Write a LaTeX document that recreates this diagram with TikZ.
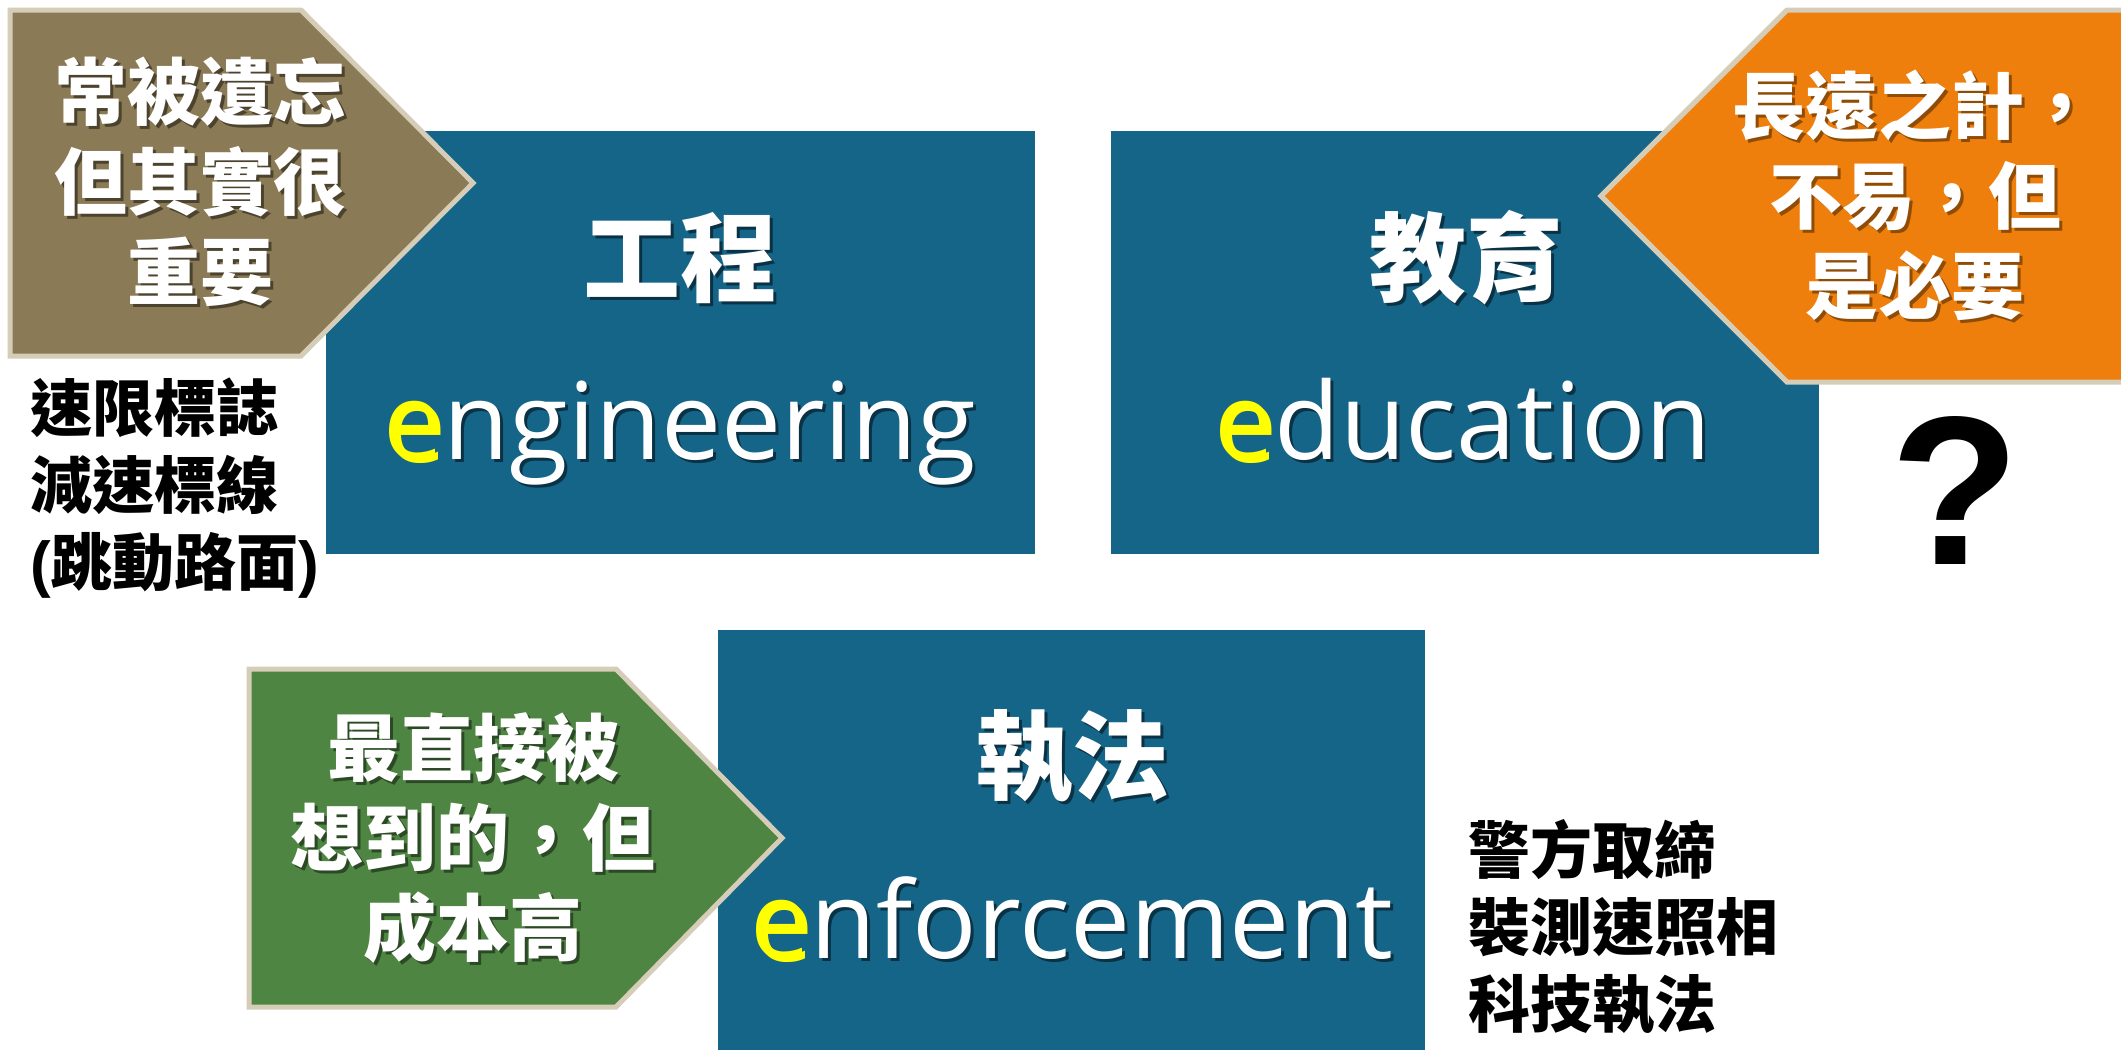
\documentclass[tikz,border=0pt]{standalone}
\usepackage{fontspec}
\setmainfont{Open Sans}
\newfontfamily\cjk{Noto Sans CJK TC}
\newfontfamily\qfont{Liberation Sans}
\definecolor{boxblue}{HTML}{146588}
\definecolor{tanbrown}{HTML}{8A7A55}
\definecolor{leafgreen}{HTML}{4F8543}
\definecolor{deeporange}{HTML}{EF7F0C}
\definecolor{rimtan}{HTML}{D6CDB8}
\definecolor{eyellow}{HTML}{FFFF00}
\newcommand\shd[2]{\makebox[0pt][l]{\hspace*{3pt}\raisebox{-3pt}[0pt][0pt]{\textcolor{#1}{#2}}}#2}
\tikzset{
  mainbox/.style={fill=boxblue, draw=none},
  arrowpent/.style={draw=rimtan, line width=5pt, line join=miter},
  sidenote/.style={inner sep=0pt, align=center, text=white, font=\cjk\bfseries\fontsize{73}{90}\selectfont},
  cjktitle/.style={inner sep=0pt, text=white, font=\cjk\bfseries\fontsize{97}{110}\selectfont},
  engword/.style={inner sep=0pt, anchor=base, text=white, font=\fontsize{107}{120}\selectfont},
  blacknote/.style={inner sep=0pt, align=left, anchor=west, text=black, font=\cjk\bfseries\fontsize{62}{77}\selectfont},
}
\begin{document}
\begin{tikzpicture}[x=1pt, y=-1pt]
\useasboundingbox (0,0) rectangle (2121,1050);
\fill[white] (0,0) rectangle (2121,1050);
% main boxes
\fill[mainbox] (326,131) rectangle (1035,554);
\fill[mainbox] (1111,131) rectangle (1819,554);
\fill[mainbox] (718,630) rectangle (1425,1050);
% pentagons
\filldraw[arrowpent, fill=tanbrown] (10,10) -- (301,10) -- (473,183) -- (301,356) -- (10,356) -- cycle;
\filldraw[arrowpent, fill=deeporange] (1787,10) -- (2135,10) -- (2135,382) -- (1787,382) -- (1601,196) -- cycle;
\filldraw[arrowpent, fill=leafgreen] (249,669) -- (616,669) -- (782,838) -- (616,1007) -- (249,1007) -- cycle;
% pentagon texts
\node[sidenote] (forgot) at (200,182) {\shd{black!45!tanbrown}{常被遺忘}\\\shd{black!45!tanbrown}{但其實很}\\\shd{black!45!tanbrown}{重要}};
\node[sidenote] (longterm) at (1915,195) {\shd{black!40!deeporange}{長遠之計，}\\\shd{black!40!deeporange}{不易，但}\\\shd{black!40!deeporange}{是必要}};
\node[sidenote] (direct) at (473,838) {\shd{black!45!leafgreen}{最直接被}\\\shd{black!45!leafgreen}{想到的，但}\\\shd{black!45!leafgreen}{成本高}};
% titles
\node[cjktitle] (engcn) at (680,258) {\shd{black!50!boxblue}{工程}};
\node[cjktitle] (educn) at (1466,258) {\shd{black!50!boxblue}{教育}};
\node[cjktitle] (enfcn) at (1072,757) {\shd{black!50!boxblue}{執法}};
\node[engword] (engen) at (680,459) {\shd{black!50!boxblue}{\textcolor{eyellow}{e}ngineering}};
\node[engword] (eduen) at (1463,459) {\shd{black!50!boxblue}{\textcolor{eyellow}{e}ducation}};
\node[engword] (enfen) at (1072,958) {\shd{black!50!boxblue}{\textcolor{eyellow}{e}nforcement}};
% black notes
\node[blacknote] (signs) at (30,488) {速限標誌\\減速標線\\{\qfont\bfseries (}跳動路面{\qfont\bfseries )}};
\node[blacknote] (police) at (1468,927) {警方取締\\裝測速照相\\科技執法};
\node[inner sep=0pt, text=black, font=\qfont\bfseries\fontsize{212}{220}\selectfont] (qmark) at (1955,490) {?};
\end{tikzpicture}
\end{document}
